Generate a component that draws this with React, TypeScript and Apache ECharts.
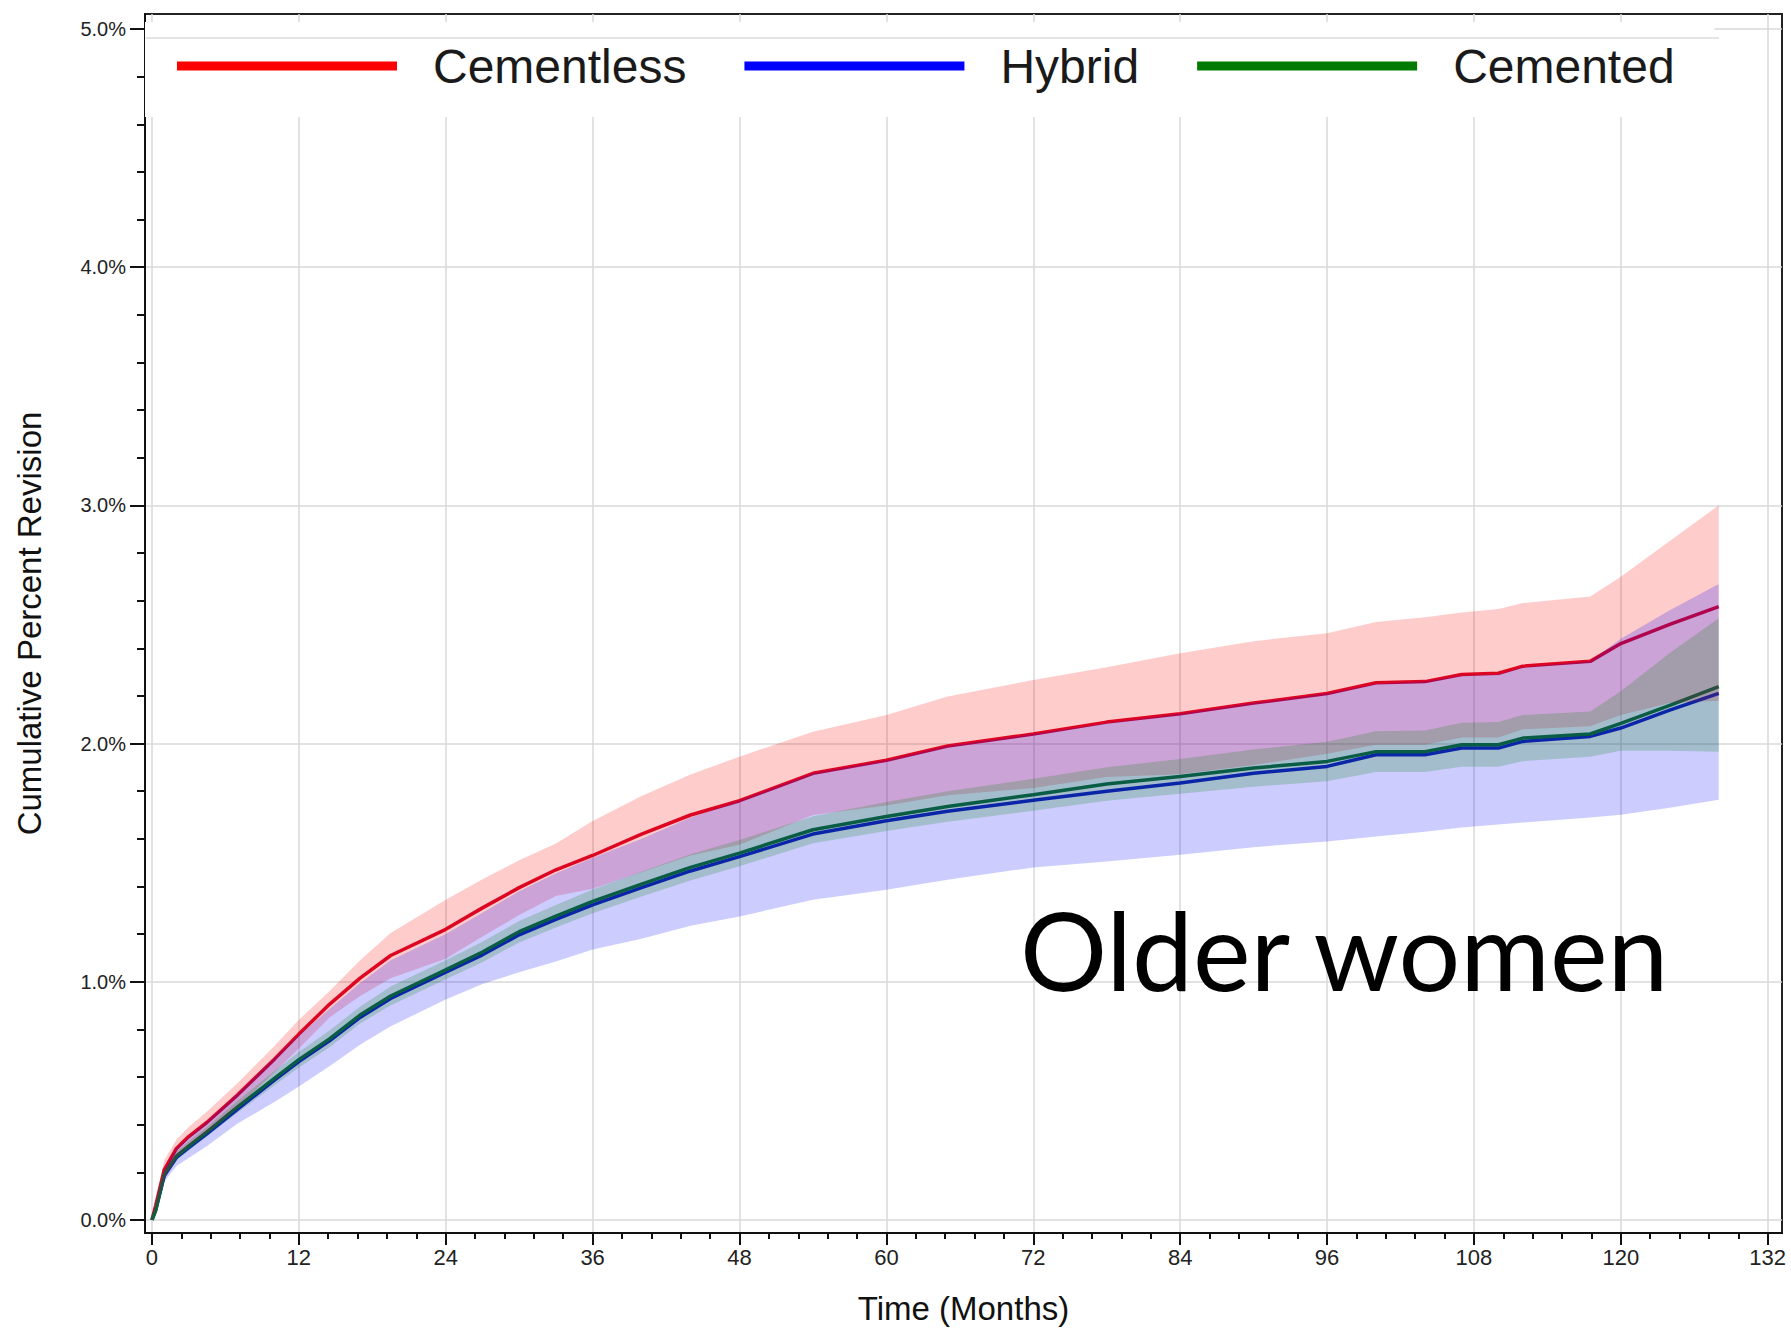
import React, { useEffect, useRef } from "react";
import * as echarts from "echarts";

// ---- data ----
const months = [0, 0.3, 1, 2, 3, 4.5, 7, 10, 12, 14.5, 17, 19.5, 24, 27, 30, 33, 36, 40, 44, 48, 54, 60, 65, 72, 78, 84, 90, 96, 100, 104, 107, 110, 112, 117.5, 120, 124, 128];

const cementless = [0, 0.06, 0.21, 0.30, 0.35, 0.41, 0.525, 0.675, 0.78, 0.905, 1.015, 1.11, 1.22, 1.31, 1.395, 1.47, 1.53, 1.62, 1.70, 1.76, 1.875, 1.93, 1.99, 2.04, 2.09, 2.125, 2.17, 2.21, 2.255, 2.26, 2.29, 2.295, 2.325, 2.345, 2.42, 2.50, 2.575];
const cementlessHi = [0, 0.08, 0.25, 0.338, 0.39, 0.455, 0.575, 0.73, 0.84, 0.96, 1.09, 1.205, 1.344, 1.43, 1.51, 1.58, 1.675, 1.78, 1.87, 1.945, 2.05, 2.12, 2.197, 2.267, 2.32, 2.379, 2.43, 2.463, 2.51, 2.53, 2.55, 2.565, 2.59, 2.617, 2.70, 2.85, 3.00];
const cementlessLo = [0, 0.04, 0.17, 0.262, 0.31, 0.365, 0.475, 0.62, 0.72, 0.85, 0.94, 1.015, 1.096, 1.19, 1.28, 1.36, 1.39, 1.46, 1.53, 1.575, 1.70, 1.74, 1.783, 1.813, 1.86, 1.871, 1.91, 1.957, 1.995, 1.995, 2.025, 2.025, 2.06, 2.073, 2.12, 2.17, 2.18];

const hybrid = [0, 0.04, 0.185, 0.262, 0.303, 0.362, 0.465, 0.587, 0.665, 0.752, 0.85, 0.93, 1.04, 1.113, 1.197, 1.262, 1.323, 1.395, 1.465, 1.525, 1.62, 1.676, 1.716, 1.762, 1.80, 1.834, 1.875, 1.904, 1.953, 1.953, 1.981, 1.981, 2.009, 2.03, 2.065, 2.14, 2.211];
const hybridHi = [0, 0.05, 0.21, 0.30, 0.346, 0.414, 0.53, 0.68, 0.775, 0.885, 0.995, 1.09, 1.20, 1.29, 1.38, 1.455, 1.52, 1.60, 1.69, 1.76, 1.875, 1.93, 1.99, 2.04, 2.085, 2.125, 2.17, 2.21, 2.25, 2.26, 2.285, 2.29, 2.32, 2.345, 2.44, 2.56, 2.67];
const hybridLo = [0, 0.03, 0.16, 0.226, 0.26, 0.31, 0.405, 0.495, 0.56, 0.645, 0.735, 0.813, 0.925, 0.99, 1.04, 1.085, 1.135, 1.18, 1.235, 1.274, 1.344, 1.386, 1.428, 1.48, 1.505, 1.533, 1.565, 1.589, 1.61, 1.63, 1.648, 1.66, 1.668, 1.69, 1.701, 1.73, 1.764];

const cemented = [0, 0.04, 0.19, 0.268, 0.31, 0.37, 0.475, 0.594, 0.673, 0.76, 0.86, 0.94, 1.05, 1.125, 1.21, 1.275, 1.337, 1.41, 1.48, 1.54, 1.638, 1.694, 1.736, 1.785, 1.83, 1.862, 1.897, 1.925, 1.966, 1.966, 1.995, 1.995, 2.023, 2.04, 2.085, 2.16, 2.239];
const cementedHi = [0, 0.05, 0.2, 0.285, 0.33, 0.39, 0.50, 0.625, 0.705, 0.795, 0.895, 0.98, 1.09, 1.168, 1.255, 1.322, 1.387, 1.462, 1.535, 1.595, 1.695, 1.755, 1.80, 1.852, 1.90, 1.935, 1.975, 2.008, 2.052, 2.055, 2.087, 2.09, 2.12, 2.135, 2.22, 2.38, 2.526];
const cementedLo = [0, 0.03, 0.18, 0.25, 0.29, 0.35, 0.45, 0.565, 0.64, 0.725, 0.825, 0.90, 1.01, 1.082, 1.165, 1.228, 1.287, 1.358, 1.425, 1.485, 1.581, 1.633, 1.672, 1.718, 1.76, 1.789, 1.819, 1.842, 1.88, 1.88, 1.903, 1.903, 1.926, 1.945, 1.97, 1.97, 1.966];

const seriesNames = ["Cementless", "Hybrid", "Cemented"];
const legendColors = ["#ff0000", "#0000ff", "#007a00"];
const lineColors = ["#d4082c", "#1212c8", "#0f6a2e"];
const xTickLabels = [0, 12, 24, 36, 48, 60, 72, 84, 96, 108, 120, 132];
const yTickLabels = [0, 1, 2, 3, 4, 5];
const annotation = "Older women";

const FONT = "'Liberation Sans', Arial, Helvetica, sans-serif";

export default function App() {
  const ref = useRef<HTMLDivElement>(null);

  useEffect(() => {
    const chart = echarts.init(ref.current as HTMLDivElement, null, { renderer: "svg" });

    const X_MIN = -0.57;
    const X_MAX = 133.17;
    const Y_MIN = -0.055;
    const Y_MAX = 5.063;

    const xMinor: number[] = [];
    for (let i = 1; i < 55; i++) if (i % 5 !== 0) xMinor.push(+(i * 2.4).toFixed(2));
    const yMinor: number[] = [];
    for (let i = 1; i < 25; i++) if (i % 5 !== 0) yMinor.push(+(i * 0.2).toFixed(2));

    const pair = (ys: number[]) => months.map((m, i) => [m, ys[i]]);

    // confidence band drawn as one polygon through the axes' scales
    const band = (key: string, lo: number[], hi: number[], color: string) => ({
      name: key,
      type: "custom",
      silent: true,
      z: 3,
      data: months.map((m, i) => [m, lo[i], hi[i]]),
      encode: { x: 0, y: [1, 2] },
      renderItem: (params: any, api: any) => {
        if (params.dataIndex !== 0) return null;
        const upper = months.map((m, i) => api.coord([m, hi[i]]));
        const lower = months.map((m, i) => api.coord([m, lo[i]])).reverse();
        return {
          type: "polygon",
          shape: { points: upper.concat(lower) },
          style: { fill: color, stroke: "none" },
        };
      },
    });

    const line = (name: string, ys: number[], color: string) => ({
      name,
      type: "line",
      data: pair(ys),
      symbol: "none",
      color,
      lineStyle: { color, width: 3.5 },
      z: 2,
    });

    const axisColor = "#111";
    const gridLine = { show: true, lineStyle: { color: "#d9d9d9", width: 1.5 } };

    chart.setOption({
      animation: false,
      backgroundColor: "#ffffff",
      grid: {
        left: 145,
        right: 9,
        top: 14,
        bottom: 96,
        show: true,
        borderColor: "#222",
        borderWidth: 2,
        backgroundColor: "transparent",
      },
      legend: {
        data: seriesNames.map((n, i) => ({ name: n, itemStyle: { color: legendColors[i] } })),
        left: 145,
        top: 22,
        padding: [20, 40, 27, 32],
        backgroundColor: "#ffffff",
        icon: "rect",
        itemWidth: 220,
        itemHeight: 9,
        itemGap: 58,
        selectedMode: false,
        textStyle: { fontSize: 48, color: "#1a1a1a", fontFamily: FONT, padding: [0, 0, 0, 31] },
      },
      xAxis: [
        {
          type: "value",
          min: X_MIN,
          max: X_MAX,
          axisLine: { show: true, onZero: false, lineStyle: { color: axisColor, width: 2 } },
          axisTick: { show: true, customValues: xTickLabels, length: 12, lineStyle: { color: axisColor, width: 2 } },
          axisLabel: { show: true, customValues: xTickLabels, fontSize: 22, color: "#222", margin: 13, fontFamily: FONT },
          splitLine: gridLine,
          name: "Time (Months)",
          nameLocation: "middle",
          nameGap: 59,
          nameTextStyle: { fontSize: 33, color: "#111", fontFamily: FONT },
        },
        {
          type: "value",
          min: X_MIN,
          max: X_MAX,
          position: "bottom",
          axisLine: { show: false, onZero: false },
          axisTick: { show: true, customValues: xMinor, length: 6, lineStyle: { color: axisColor, width: 2 } },
          axisLabel: { show: false },
          splitLine: { show: false },
        },
      ],
      yAxis: [
        {
          type: "value",
          min: Y_MIN,
          max: Y_MAX,
          axisLine: { show: true, onZero: false, lineStyle: { color: axisColor, width: 2 } },
          axisTick: { show: true, customValues: yTickLabels, length: 15, lineStyle: { color: axisColor, width: 2 } },
          axisLabel: {
            show: true,
            customValues: yTickLabels,
            formatter: (v: number) => v.toFixed(1) + "%",
            fontSize: 20,
            color: "#222",
            margin: 19,
            fontFamily: FONT,
          },
          splitLine: gridLine,
          name: "Cumulative Percent Revision",
          nameLocation: "middle",
          nameGap: 99,
          nameTextStyle: { fontSize: 33, color: "#111", fontFamily: FONT },
        },
        {
          type: "value",
          min: Y_MIN,
          max: Y_MAX,
          position: "left",
          axisLine: { show: false, onZero: false },
          axisTick: { show: true, customValues: yMinor, length: 8, lineStyle: { color: axisColor, width: 2 } },
          axisLabel: { show: false },
          splitLine: { show: false },
        },
      ],
      graphic: [
        {
          type: "line",
          shape: { x1: 146, y1: 38, x2: 1719, y2: 38 },
          style: { stroke: "#e4e4e4", lineWidth: 2 },
          z: 10,
          silent: true,
        },
        {
          type: "text",
          x: 1020,
          y: 948,
          style: {
            text: annotation,
            fill: "#000",
            fontSize: 109,
            fontFamily: "Lato, 'Open Sans', sans-serif",
            textAlign: "left",
            textVerticalAlign: "middle",
          },
          z: 10,
          silent: true,
        },
      ],
      series: [
        line(seriesNames[0], cementless, lineColors[0]),
        line(seriesNames[1], hybrid, lineColors[1]),
        line(seriesNames[2], cemented, lineColors[2]),
        band("cementlessCI", cementlessLo, cementlessHi, "rgba(255,0,0,0.2)"),
        band("hybridCI", hybridLo, hybridHi, "rgba(0,0,255,0.2)"),
        band("cementedCI", cementedLo, cementedHi, "rgba(0,128,0,0.2)"),
      ],
    });

    return () => chart.dispose();
  }, []);

  return (
    <div
      ref={ref}
      style={{ position: "fixed", left: 0, top: 0, width: 1791, height: 1330, background: "#fff" }}
    />
  );
}
